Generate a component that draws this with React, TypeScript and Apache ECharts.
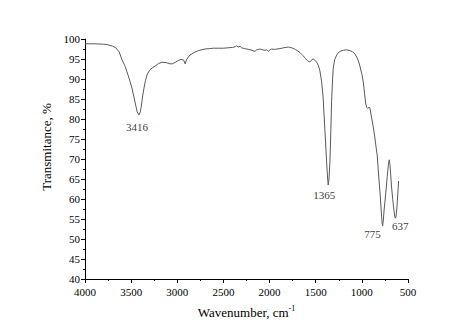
import React, { useEffect, useRef } from "react";
import * as echarts from "echarts";

// Wavenumber (cm^-1) and transmittance (%)
const wavenumbers: number[] = [
  4000, 3900, 3800, 3760, 3700, 3667, 3630, 3599, 3570, 3545, 3520, 3491, 3470, 3451, 3435, 3416,
  3400, 3388, 3375, 3361, 3345, 3325, 3300, 3271, 3230, 3200, 3163, 3120, 3080, 3054, 3020, 2990,
  2960, 2930, 2915, 2900, 2880, 2862, 2820, 2780, 2754, 2700, 2650, 2610, 2550, 2500, 2450, 2400,
  2370, 2357, 2340, 2320, 2302, 2270, 2230, 2190, 2158, 2140, 2120, 2104, 2080, 2050, 2030, 2014,
  1995, 1977, 1950, 1920, 1887, 1850, 1820, 1797, 1779, 1750, 1720, 1700, 1670, 1640, 1610, 1590,
  1570, 1555, 1540, 1527, 1510, 1490, 1472, 1455, 1436, 1420, 1407, 1395, 1382, 1372, 1365, 1356,
  1346, 1337, 1328, 1318, 1310, 1295, 1273, 1250, 1225, 1200, 1165, 1130, 1100, 1075, 1050, 1030,
  1021, 1000, 985, 970, 959, 948, 935, 920, 912, 900, 888, 876, 860, 845, 834, 820,
  804, 790, 781, 775, 768, 760, 749, 735, 725, 712, 703, 695, 686, 678, 665, 653,
  644, 637, 630, 620, 610, 602,
];
const transmittance: number[] = [
  98.8, 98.8, 98.7, 98.6, 98.2, 97.8, 96.8, 94.8, 93.4, 91.8, 90.0, 87.7, 85.5, 83.5, 81.8, 81.0,
  81.8, 83.5, 85.8, 87.7, 89.6, 91.2, 92.2, 92.8, 93.4, 93.9, 94.2, 94.1, 93.8, 93.8, 94.2, 94.6,
  94.9, 94.7, 93.8, 94.8, 95.5, 96.0, 96.6, 97.0, 97.2, 97.5, 97.6, 97.7, 97.7, 97.7, 97.8, 97.9,
  98.1, 98.3, 98.0, 98.2, 97.8, 97.6, 97.4, 97.2, 96.9, 97.3, 97.4, 97.5, 97.3, 97.2, 97.3, 96.9,
  97.3, 97.5, 97.4, 97.5, 97.6, 97.8, 97.9, 98.0, 97.9, 97.7, 97.4, 97.1, 96.6, 95.9, 95.1, 94.6,
  94.3, 94.4, 94.9, 95.0, 94.7, 94.2, 93.4, 92.1, 89.3, 85.5, 80.0, 75.0, 69.3, 65.5, 63.5, 65.0,
  69.3, 76.5, 84.3, 89.5, 92.7, 94.8, 96.0, 96.7, 97.0, 97.2, 97.3, 97.1, 96.8, 96.3, 95.2, 94.0,
  93.2, 91.2, 89.3, 86.3, 84.0, 82.9, 82.6, 83.0, 82.6, 81.0, 79.5, 78.0, 75.5, 72.8, 71.0, 66.5,
  61.8, 57.0, 54.0, 53.3, 54.5, 57.0, 59.5, 63.0, 65.6, 68.8, 69.8, 68.5, 65.5, 63.0, 59.8, 57.3,
  55.7, 55.2, 55.5, 58.0, 61.5, 64.5,
];

// Annotated absorption peaks
const peakWavenumbers: number[] = [3416, 1365, 775, 637];
const peakValues: number[] = [81.0, 63.5, 53.3, 55.2];
const peakLabels: string[] = ["3416", "1365", "775", "637"];

// Label nudges (style only)
const peakLabelOffsets: number[][] = [[-2, 1], [-4, -1], [-10, -2], [5, -3]];

const FONT = "'Liberation Serif', 'Times New Roman', serif";

export default function App() {
  const ref = useRef<HTMLDivElement>(null);

  useEffect(() => {
    if (!ref.current) return;
    const chart = echarts.init(ref.current, null, { renderer: "svg" });
    const lineData = wavenumbers.map((w, i) => [w, transmittance[i]]);
    const peakData = peakWavenumbers.map((w, i) => ({
      value: [w, peakValues[i]],
      label: { offset: peakLabelOffsets[i] },
    }));

    chart.setOption({
      animation: false,
      backgroundColor: "#ffffff",
      textStyle: { fontFamily: FONT },
      grid: { left: 85, right: 66, top: 39, bottom: 56, containLabel: false },
      xAxis: {
        type: "value",
        inverse: true,
        min: 500,
        max: 4000,
        interval: 500,
        name: "Wavenumber, cm{sup|-1}",
        nameLocation: "middle",
        nameGap: 25,
        nameTextStyle: {
          fontFamily: FONT,
          fontSize: 13,
          color: "#000",
          rich: { sup: { fontFamily: FONT, fontSize: 8, color: "#000", verticalAlign: "top", padding: [0, 0, 8, 0] } },
        },
        axisLine: { show: true, lineStyle: { color: "#000", width: 1 } },
        axisTick: { show: true, inside: false, length: 4, lineStyle: { color: "#000" } },
        minorTick: { show: true, splitNumber: 2, length: 2, lineStyle: { color: "#000" } },
        axisLabel: {
          fontFamily: FONT,
          fontSize: 11,
          color: "#000",
          margin: 7,
          formatter: (v: number) => String(v),
        },
        splitLine: { show: false },
      },
      yAxis: {
        type: "value",
        min: 40,
        max: 100,
        interval: 5,
        name: "Transmitance, %",
        nameLocation: "middle",
        nameGap: 26,
        nameTextStyle: { fontFamily: FONT, fontSize: 13, color: "#000", padding: [0, 0, 0, 24] },
        axisLine: { show: true, lineStyle: { color: "#000", width: 1 } },
        axisTick: { show: true, inside: false, length: 4, lineStyle: { color: "#000" } },
        minorTick: { show: true, splitNumber: 2, length: 2, lineStyle: { color: "#000" } },
        axisLabel: {
          fontFamily: FONT,
          fontSize: 11,
          color: "#000",
          margin: 5,
          formatter: (v: number) => String(v),
        },
        splitLine: { show: false },
      },
      series: [
        {
          type: "line",
          data: lineData,
          showSymbol: false,
          symbol: "none",
          smooth: false,
          lineStyle: { color: "#5a5a5a", width: 1 },
          silent: true,
        },
        {
          type: "scatter",
          data: peakData,
          symbolSize: 0,
          silent: true,
          label: {
            show: true,
            position: "bottom",
            distance: 5,
            fontFamily: FONT,
            fontSize: 11,
            color: "#000",
            formatter: (p: any) => peakLabels[p.dataIndex],
          },
        },
      ],
    });

    return () => chart.dispose();
  }, []);

  return (
    <div
      ref={ref}
      style={{ position: "fixed", left: 0, top: 0, width: 474, height: 335 }}
    />
  );
}
